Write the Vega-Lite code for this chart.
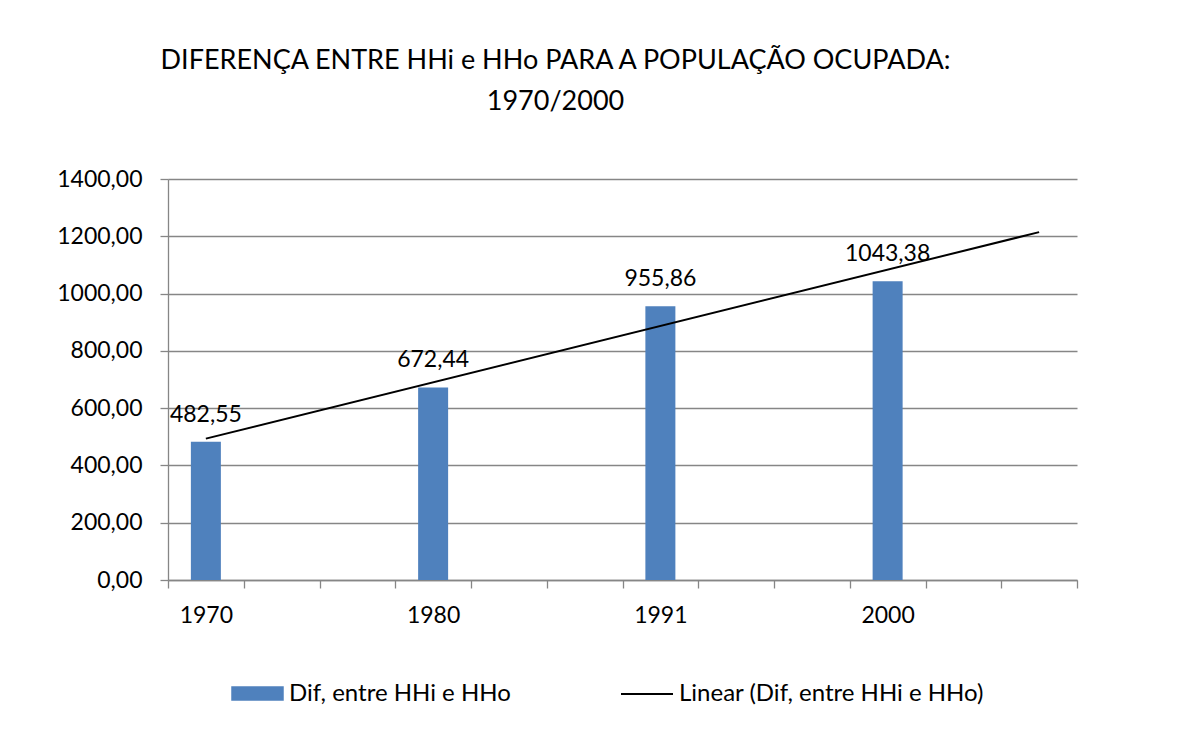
{
  "$schema": "https://vega.github.io/schema/vega-lite/v6.json",
  "width": 909,
  "height": 401,
  "autosize": {"type": "none"},
  "padding": {"left": 168, "top": 179, "right": 104, "bottom": 158},
  "background": "white",
  "title": {
    "text": ["DIFERENÇA ENTRE HHi e HHo PARA A POPULAÇÃO OCUPADA:", "1970/2000"],
    "font": "Lato",
    "fontSize": 27,
    "fontWeight": "normal",
    "color": "black",
    "anchor": "middle",
    "dx": -67,
    "lineHeight": 41,
    "offset": 52
  },
  "data": {
    "values": [
      {"ano": "1970", "pos": 1, "dif": 482.55},
      {"ano": "1980", "pos": 4, "dif": 672.44},
      {"ano": "1991", "pos": 7, "dif": 955.86},
      {"ano": "2000", "pos": 10, "dif": 1043.38}
    ]
  },
  "layer": [
    {
      "mark": {"type": "bar", "size": 30, "color": "#4F81BD"},
      "encoding": {
        "x": {
          "field": "pos",
          "type": "quantitative",
          "scale": {"domain": [0.5, 12.5], "nice": false, "zero": false, "padding": 0},
          "axis": {
            "title": null,
            "grid": false,
            "values": [0.5, 1, 1.5, 2.5, 3.5, 4, 4.5, 5.5, 6.5, 7, 7.5, 8.5, 9.5, 10, 10.5, 11.5, 12.5],
            "labelExpr": "datum.value == 1 ? '1970' : datum.value == 4 ? '1980' : datum.value == 7 ? '1991' : datum.value == 10 ? '2000' : ''",
            "labelOverlap": false,
            "labelFlush": false,
            "tickSize": {"condition": {"test": "datum.value % 1 == 0", "value": 0}, "value": 8},
            "tickOpacity": {"condition": {"test": "datum.value % 1 == 0", "value": 0}, "value": 1},
            "labelPadding": 24
          }
        },
        "y": {
          "field": "dif",
          "type": "quantitative",
          "scale": {"domain": [0, 1400], "nice": false, "padding": 0},
          "axis": {
            "title": null,
            "values": [0, 200, 400, 600, 800, 1000, 1200, 1400],
            "format": ".2f",
            "grid": true,
            "tickSize": 8,
            "labelPadding": 18
          }
        },
        "fill": {
          "datum": "Dif, entre HHi e HHo",
          "type": "nominal",
          "scale": {"range": ["#4F81BD"]},
          "legend": {
            "title": null,
            "orient": "none",
            "legendX": 63,
            "legendY": 488,
            "symbolType": "M-1,-0.28H1V0.28H-1Z",
            "symbolSize": 2756,
            "symbolStrokeWidth": 0,
            "labelOffset": 5,
            "padding": 0
          }
        }
      }
    },
    {
      "transform": [
        {"regression": "dif", "on": "pos", "method": "linear", "extent": [1, 12]}
      ],
      "mark": {"type": "line", "strokeWidth": 2},
      "encoding": {
        "x": {"field": "pos", "type": "quantitative"},
        "y": {"field": "dif", "type": "quantitative"},
        "stroke": {
          "datum": "Linear (Dif, entre HHi e HHo)",
          "type": "nominal",
          "scale": {"range": ["black"]},
          "legend": {
            "title": null,
            "orient": "none",
            "legendX": 452,
            "legendY": 488,
            "symbolType": "stroke",
            "symbolSize": 2704,
            "symbolStrokeWidth": 2,
            "labelOffset": 5,
            "padding": 0
          }
        }
      }
    },
    {
      "mark": {"type": "text", "font": "Lato", "fontSize": 23, "color": "black", "baseline": "alphabetic", "dy": -20},
      "encoding": {
        "x": {"field": "pos", "type": "quantitative"},
        "y": {"field": "dif", "type": "quantitative"},
        "text": {"field": "dif", "type": "quantitative", "format": ".2f"}
      }
    }
  ],
  "resolve": {"legend": {"fill": "independent", "stroke": "independent"}},
  "config": {
    "locale": {"number": {"decimal": ",", "thousands": ".", "grouping": [3], "currency": ["R$", ""]}},
    "view": {"stroke": null},
    "axis": {
      "labelFont": "Lato",
      "labelFontSize": 23,
      "labelColor": "black",
      "domainColor": "#868686",
      "tickColor": "#868686",
      "gridColor": "#868686",
      "domainWidth": 1.3,
      "tickWidth": 1.3,
      "gridWidth": 1.3
    },
    "legend": {
      "labelFont": "Lato",
      "labelFontSize": 24,
      "labelColor": "black",
      "labelLimit": 0
    }
  }
}
